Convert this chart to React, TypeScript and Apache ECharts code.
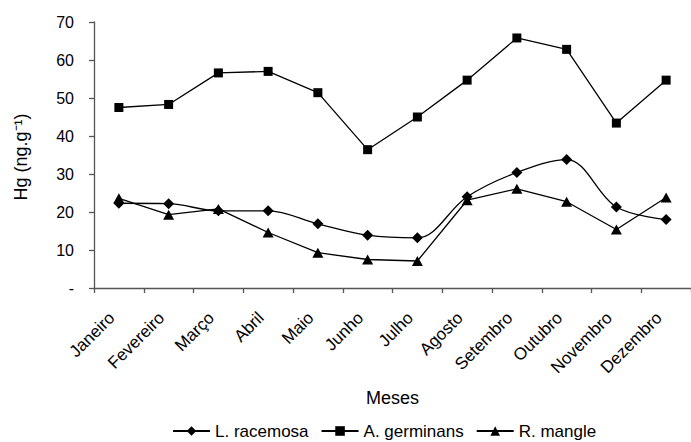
import React, { useEffect, useRef } from "react";
import * as echarts from "echarts";

const months = [
  "Janeiro", "Fevereiro", "Março", "Abril", "Maio", "Junho",
  "Julho", "Agosto", "Setembro", "Outubro", "Novembro", "Dezembro",
];
const lRacemosa = [22.3, 22.2, 20.3, 20.3, 16.9, 13.9, 13.2, 24.0, 30.4, 33.8, 21.3, 18.0];
const aGerminans = [47.5, 48.3, 56.6, 57.0, 51.4, 36.4, 45.0, 54.7, 65.8, 62.8, 43.4, 54.7];
const rMangle = [23.6, 19.3, 20.8, 14.6, 9.3, 7.5, 7.1, 23.1, 26.1, 22.7, 15.4, 23.8];
const seriesNames = ["L. racemosa", "A. germinans", "R. mangle"];
const yTitle = "Hg (ng.g\u207B\u00B9)";

const FONT = "Liberation Sans, Arial, sans-serif";
const AXIS_COLOR = "#555555";

export default function App() {
  const ref = useRef<HTMLDivElement>(null);

  useEffect(() => {
    if (!ref.current) return;
    const chart = echarts.init(ref.current, undefined, { renderer: "svg" });
    const lineStyle = { color: "#000", width: 1.3 };
    chart.setOption({
      animation: false,
      backgroundColor: "#ffffff",
      textStyle: { fontFamily: FONT, color: "#000" },
      grid: { left: 94, top: 22, width: 606, height: 266 },
      graphic: [
        {
          type: "text",
          x: 21,
          y: 157,
          rotation: Math.PI / 2,
          style: {
            text: yTitle,
            fontFamily: FONT,
            fontSize: 18,
            fill: "#000",
            align: "center",
            verticalAlign: "middle",
          },
        },
      ],
      legend: {
        left: 172,
        top: 422,
        padding: 0,
        itemWidth: 37,
        itemHeight: 12,
        itemGap: 12,
        textStyle: { fontFamily: FONT, fontSize: 17, color: "#000", lineHeight: 18 },
        data: seriesNames,
      },
      xAxis: {
        type: "category",
        data: months,
        boundaryGap: true,
        name: "Meses",
        nameLocation: "middle",
        nameGap: 101,
        nameTextStyle: { fontFamily: FONT, fontSize: 18, color: "#000" },
        axisLine: { lineStyle: { color: AXIS_COLOR, width: 1.3 } },
        axisTick: { show: true, alignWithLabel: false, length: 5, lineStyle: { color: AXIS_COLOR, width: 1.3 } },
        axisLabel: {
          rotate: 45,
          interval: 0,
          margin: 20,
          padding: [0, 10, 0, 0],
          fontFamily: FONT,
          fontSize: 17,
          color: "#000",
        },
        splitLine: { show: false },
      },
      yAxis: {
        type: "value",
        min: 0,
        max: 70,
        interval: 10,
        axisLine: { show: true, lineStyle: { color: AXIS_COLOR, width: 1.3 } },
        axisTick: { show: true, length: 5, lineStyle: { color: AXIS_COLOR, width: 1.3 } },
        axisLabel: {
          margin: 20,
          fontFamily: FONT,
          fontSize: 16,
          color: "#000",
          formatter: (v: number) => (v === 0 ? "-" : String(v)),
        },
        splitLine: { show: false },
      },
      series: [
        {
          name: seriesNames[0],
          type: "line",
          data: lRacemosa,
          smooth: 0.35,
          symbol: "diamond",
          symbolSize: 11,
          itemStyle: { color: "#000" },
          lineStyle,
        },
        {
          name: seriesNames[1],
          type: "line",
          data: aGerminans,
          symbol: "rect",
          symbolSize: 9,
          itemStyle: { color: "#000" },
          lineStyle,
        },
        {
          name: seriesNames[2],
          type: "line",
          data: rMangle,
          symbol: "triangle",
          symbolSize: [11, 10],
          itemStyle: { color: "#000" },
          lineStyle,
        },
      ],
    });
    return () => chart.dispose();
  }, []);

  return (
    <div
      ref={ref}
      style={{ position: "fixed", left: 0, top: 0, width: 691, height: 442, background: "#fff" }}
    />
  );
}
